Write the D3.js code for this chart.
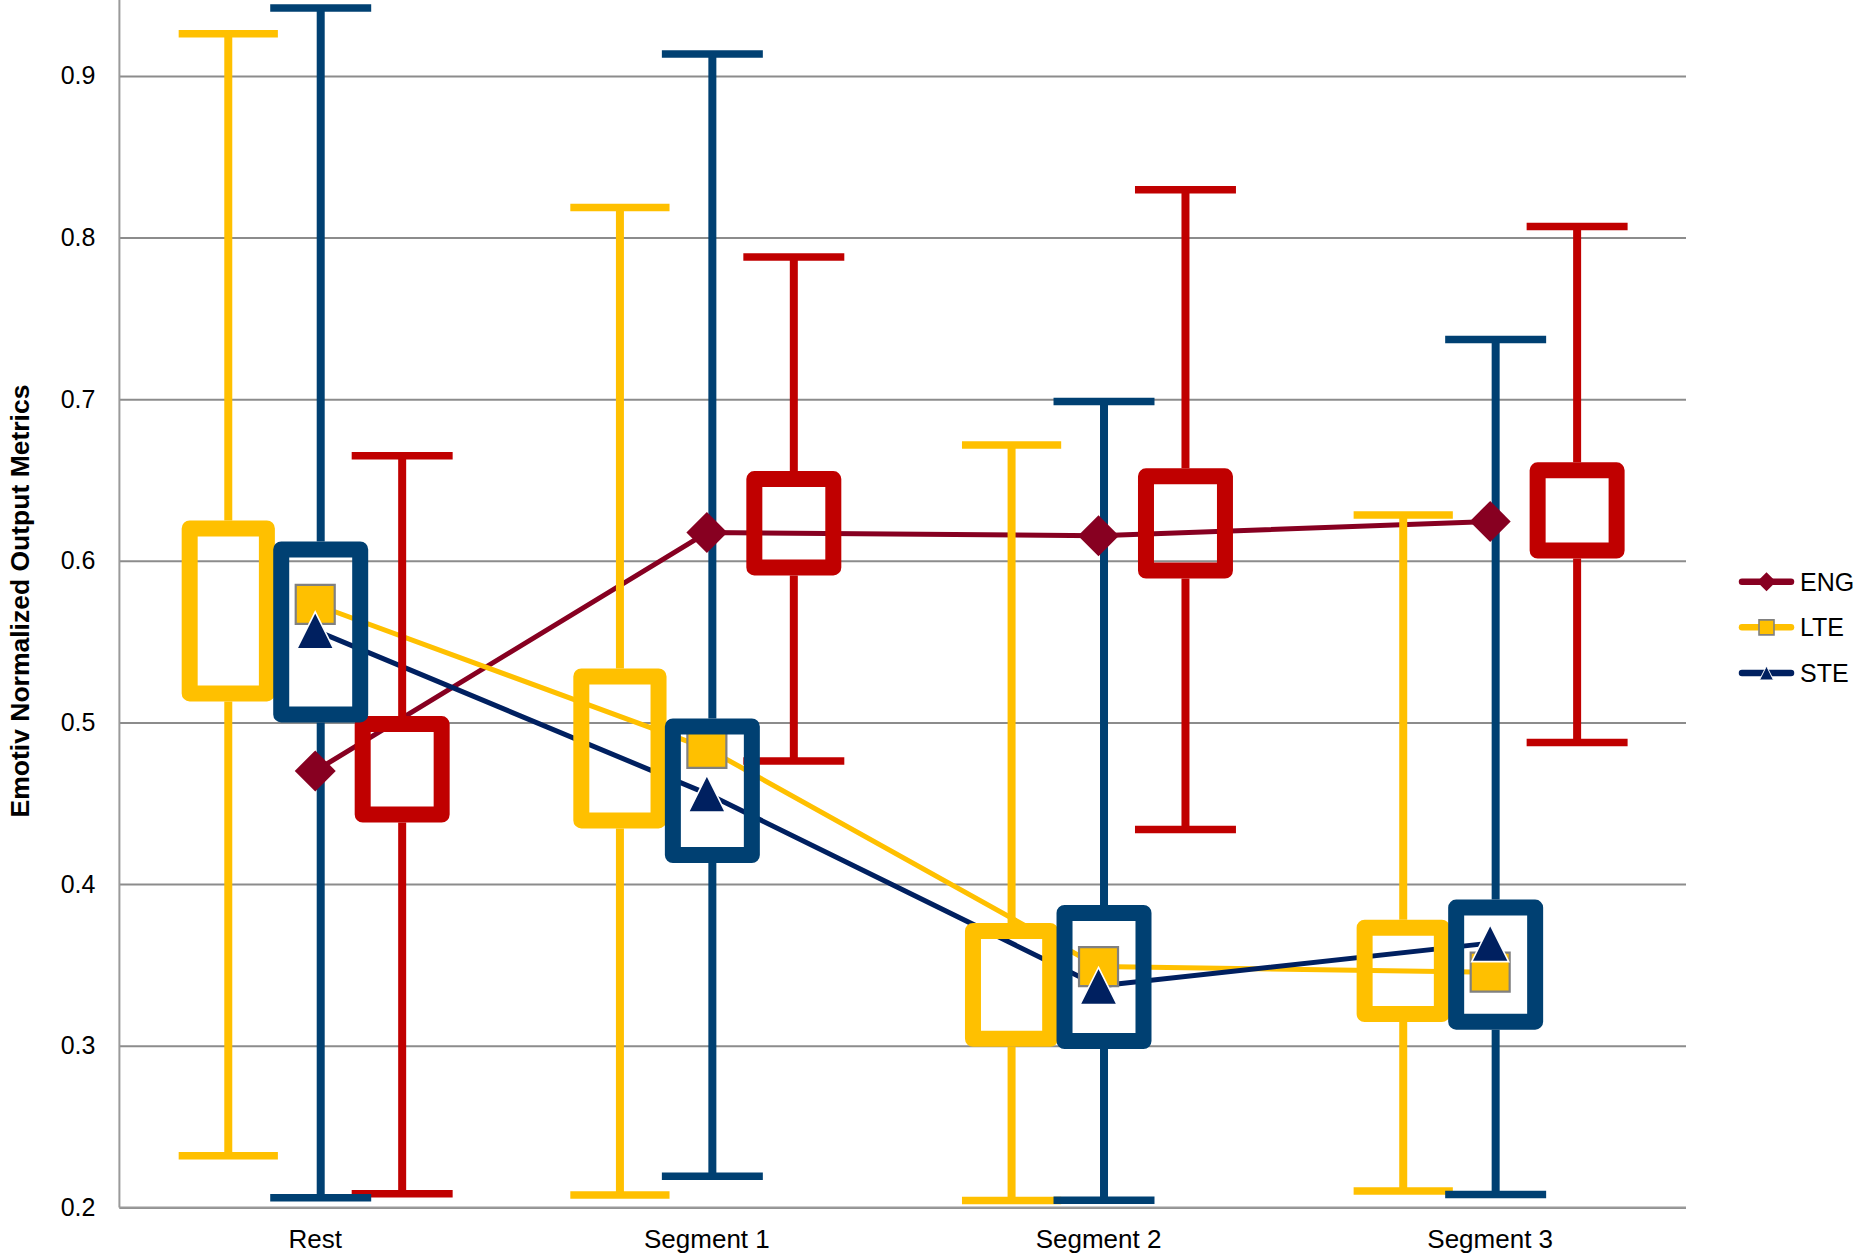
<!DOCTYPE html>
<html>
<head>
<meta charset="utf-8">
<script src="https://cdn.jsdelivr.net/npm/d3@7"></script>
<style>
  body { margin: 0; background: #ffffff; }
  svg { display: block; }
  text { font-family: "Liberation Sans", Arial, sans-serif; fill: #000; }
</style>
</head>
<body>
<svg id="chart" width="1860" height="1257"></svg>
<script>
// ---- data ----
const categories = ["Rest", "Segment 1", "Segment 2", "Segment 3"];
const yTicks = [0.2, 0.3, 0.4, 0.5, 0.6, 0.7, 0.8, 0.9];

// series means (line markers)
const engMean = [0.470, 0.6175, 0.6155, 0.6244];
const lteMean = [0.573, 0.484, 0.349, 0.3455];
const steMean = [0.557, 0.456, 0.337, 0.3635];

// box-and-whisker summaries
const lteMin = [0.232, 0.2077, 0.2043, 0.2101];
const lteQ1  = [0.518, 0.4394, 0.3043, 0.3196];
const lteQ3  = [0.620, 0.5285, 0.371, 0.373];
const lteMax = [0.926, 0.8186, 0.6716, 0.6284];

const steMin = [0.206, 0.2193, 0.2045, 0.208];
const steQ1  = [0.505, 0.418, 0.3029, 0.3149];
const steQ3  = [0.607, 0.4975, 0.3822, 0.3855];
const steMax = [0.942, 0.9136, 0.6985, 0.737];

const engMin = [0.2085, 0.4762, 0.4338, 0.4876];
const engQ1  = [0.443, 0.5959, 0.594, 0.6064];
const engQ3  = [0.499, 0.6506, 0.6523, 0.656];
const engMax = [0.665, 0.788, 0.8295, 0.8068];

// ---- layout ----
const plotLeft = 119.4, plotRight = 1686;
const svg = d3.select("#chart");

const x = d3.scaleBand().domain(categories).range([plotLeft, plotRight]).padding(0);
const y = d3.scaleLinear().domain([0.2, 0.9]).range([1207.4, 75.9]);
const cx = c => x(c) + x.bandwidth() / 2;

const series = [
  { name: "ENG", line: "#870021", box: "#c00000", marker: "diamond",
    mean: engMean, min: engMin, q1: engQ1, q3: engQ3, max: engMax, offset: 0.222, boxW: 0.2425 },
  { name: "LTE", line: "#ffc000", box: "#ffc000", marker: "square",
    mean: lteMean, min: lteMin, q1: lteQ1, q3: lteQ3, max: lteMax, offset: -0.222, boxW: 0.238 },
  { name: "STE", line: "#002060", box: "#004072", marker: "triangle",
    mean: steMean, min: steMin, q1: steQ1, q3: steQ3, max: steMax, offset: 0.014, boxW: 0.2425 }
];

// marker shapes centred on (0,0)
function markerPath(kind, s) {
  const h = s / 2;
  if (kind === "diamond") return `M0,${-h}L${h},0L0,${h}L${-h},0Z`;
  if (kind === "square") return `M${-h},${-h}H${h}V${h}H${-h}Z`;
  return `M0,${-h}L${h},${h}L${-h},${h}Z`;
}
function drawMarker(g, kind, px, py, big) {
  if (kind === "diamond") {
    g.append("path").attr("d", markerPath("diamond", big ? 41 : 19))
      .attr("transform", `translate(${px},${py})`).attr("fill", "#870021");
  } else if (kind === "square") {
    g.append("path").attr("d", markerPath("square", big ? 39 : 15))
      .attr("transform", `translate(${px},${py})`)
      .attr("fill", "#ffc000").attr("stroke", "#808080").attr("stroke-width", big ? 2.2 : 1.6);
  } else {
    g.append("path").attr("d", markerPath("triangle", big ? 37 : 14))
      .attr("transform", `translate(${px},${py})`)
      .attr("fill", "#002060").attr("stroke", "#ffffff").attr("stroke-width", big ? 1.6 : 1);
  }
}

// ---- grid ----
const gridG = svg.append("g").attr("transform", `translate(${plotLeft},0)`)
  .call(d3.axisLeft(y).tickValues(yTicks).tickSize(-(plotRight - plotLeft)).tickFormat(""));
gridG.select(".domain").remove();
gridG.selectAll(".tick line").attr("stroke", "#8c8c8c").attr("stroke-width", 2);

// axis lines
svg.append("line").attr("x1", plotLeft).attr("x2", plotLeft)
  .attr("y1", y(0.95)).attr("y2", y(0.2)).attr("stroke", "#9a9a9a").attr("stroke-width", 2);
svg.append("line").attr("x1", plotLeft).attr("x2", plotRight)
  .attr("y1", y(0.2)).attr("y2", y(0.2)).attr("stroke", "#9a9a9a").attr("stroke-width", 2);

// y tick labels
const yAx = svg.append("g").attr("transform", `translate(${plotLeft},0)`)
  .call(d3.axisLeft(y).tickValues(yTicks).tickFormat(d3.format(".1f")).tickSize(0).tickPadding(24));
yAx.select(".domain").remove();
yAx.selectAll("text").attr("font-size", 25).attr("font-family", '"Liberation Sans", Arial, sans-serif').attr("fill", "#000");

// x tick labels
const xAx = svg.append("g").attr("transform", `translate(0,${y(0.2)})`)
  .call(d3.axisBottom(x).tickSize(0).tickPadding(22));
xAx.select(".domain").remove();
xAx.selectAll("text").attr("font-size", 26).attr("font-family", '"Liberation Sans", Arial, sans-serif').attr("fill", "#000");

// y axis title
svg.append("text")
  .attr("transform", "translate(20,601) rotate(-90)")
  .attr("text-anchor", "middle").attr("dominant-baseline", "central")
  .attr("font-size", 26.5).attr("font-weight", "bold")
  .text("Emotiv Normalized Output Metrics");

// ---- mean lines ----
const lineGen = d3.line().x((d, i) => cx(categories[i])).y(d => y(d));
const linesG = svg.append("g");
series.forEach(s => {
  linesG.append("path").datum(s.mean).attr("d", lineGen)
    .attr("fill", "none").attr("stroke", s.line).attr("stroke-width", 5)
    .attr("stroke-linejoin", "round");
});

// ---- whiskers ----
const BOX_STROKE = 16;
const whiskG = svg.append("g");
series.forEach(s => {
  categories.forEach((c, i) => {
    const bx = cx(c) + s.offset * x.bandwidth();
    const capW = s.boxW * x.bandwidth() + 6;
    const yMax = y(s.max[i]), yMin = y(s.min[i]);
    // upper whisker
    whiskG.append("line").attr("x1", bx).attr("x2", bx)
      .attr("y1", yMax).attr("y2", y(s.q3[i]) - BOX_STROKE / 2)
      .attr("stroke", s.box).attr("stroke-width", 8);
    whiskG.append("line").attr("x1", bx - capW / 2).attr("x2", bx + capW / 2)
      .attr("y1", yMax).attr("y2", yMax)
      .attr("stroke", s.box).attr("stroke-width", 7.5);
    // lower whisker
    whiskG.append("line").attr("x1", bx).attr("x2", bx)
      .attr("y1", y(s.q1[i]) + BOX_STROKE / 2).attr("y2", yMin)
      .attr("stroke", s.box).attr("stroke-width", 8);
    whiskG.append("line").attr("x1", bx - capW / 2).attr("x2", bx + capW / 2)
      .attr("y1", yMin).attr("y2", yMin)
      .attr("stroke", s.box).attr("stroke-width", 7.5);
  });
});

// ---- mean markers ----
const markG = svg.append("g");
series.forEach(s => {
  s.mean.forEach((v, i) => drawMarker(markG, s.marker, cx(categories[i]), y(v), true));
});

// ---- boxes ----
const boxG = svg.append("g");
series.forEach(s => {
  categories.forEach((c, i) => {
    const bx = cx(c) + s.offset * x.bandwidth();
    const w = s.boxW * x.bandwidth() - BOX_STROKE;
    boxG.append("rect")
      .attr("x", bx - w / 2).attr("width", w)
      .attr("y", y(s.q3[i])).attr("height", y(s.q1[i]) - y(s.q3[i]))
      .attr("fill", "none").attr("stroke", s.box).attr("stroke-width", BOX_STROKE)
      .attr("stroke-linejoin", "round");
  });
});

// ---- legend ----
const legend = svg.append("g");
const legendOrder = ["ENG", "LTE", "STE"];
const legendY = d3.scalePoint().domain(legendOrder).range([581.7, 673]);
legendOrder.forEach(name => {
  const s = series.find(d => d.name === name);
  const ly = legendY(name);
  legend.append("line").attr("x1", 1742).attr("x2", 1791).attr("y1", ly).attr("y2", ly)
    .attr("stroke", s.line).attr("stroke-width", 6.5).attr("stroke-linecap", "round");
  drawMarker(legend, s.marker, 1766.5, ly, false);
  legend.append("text").attr("x", 1800).attr("y", ly)
    .attr("dominant-baseline", "central").attr("font-size", 25).text(name);
});
</script>
</body>
</html>
